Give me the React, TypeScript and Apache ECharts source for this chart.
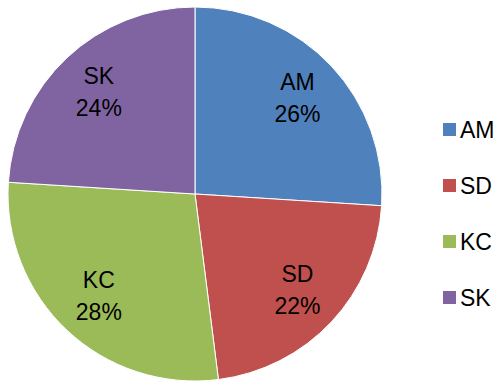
import React, { useEffect, useRef } from "react";
import * as echarts from "echarts";

const categories = ["AM", "SD", "KC", "SK"];
const values = [26, 22, 28, 24];
const colors = ["#4F81BD", "#C0504D", "#9BBB59", "#8064A2"];

export default function App() {
  const ref = useRef<HTMLDivElement>(null);
  useEffect(() => {
    document.body.style.margin = "0";
    const chart = echarts.init(ref.current!, undefined, { renderer: "svg" });
    const data = categories.map((name, i) => ({ name, value: values[i] }));
    const font = "Liberation Sans";
    chart.setOption({
      animation: false,
      color: colors,
      legend: {
        orient: "vertical",
        left: 436,
        top: 113,
        itemWidth: 15,
        itemHeight: 15,
        itemGap: 33,
        icon: "rect",
        data: categories,
        textStyle: { fontSize: 23, color: "#000", fontFamily: font, padding: [0, 0, 0, -2] },
        selectedMode: false,
      },
      series: [
        {
          type: "pie",
          center: [195, 194],
          radius: [0, 187],
          startAngle: 90,
          clockwise: true,
          data,
          label: { show: false },
          labelLine: { show: false },
          itemStyle: { borderColor: "#fff", borderWidth: 1 },
          emphasis: { disabled: true },
          silent: true,
        },
        {
          type: "pie",
          center: [195, 194],
          radius: [88, 187],
          startAngle: 90,
          clockwise: true,
          data,
          itemStyle: { color: "transparent" },
          label: {
            show: true,
            position: "inside",
            formatter: (p: any) => `${p.name}\n${p.value}%`,
            fontSize: 23,
            lineHeight: 32,
            color: "#000",
            fontFamily: font,
          },
          labelLine: { show: false },
          emphasis: { disabled: true },
          silent: true,
        },
      ],
    });
    return () => chart.dispose();
  }, []);
  return <div ref={ref} style={{ position: "absolute", left: 0, top: 0, width: 496, height: 381 }} />;
}
